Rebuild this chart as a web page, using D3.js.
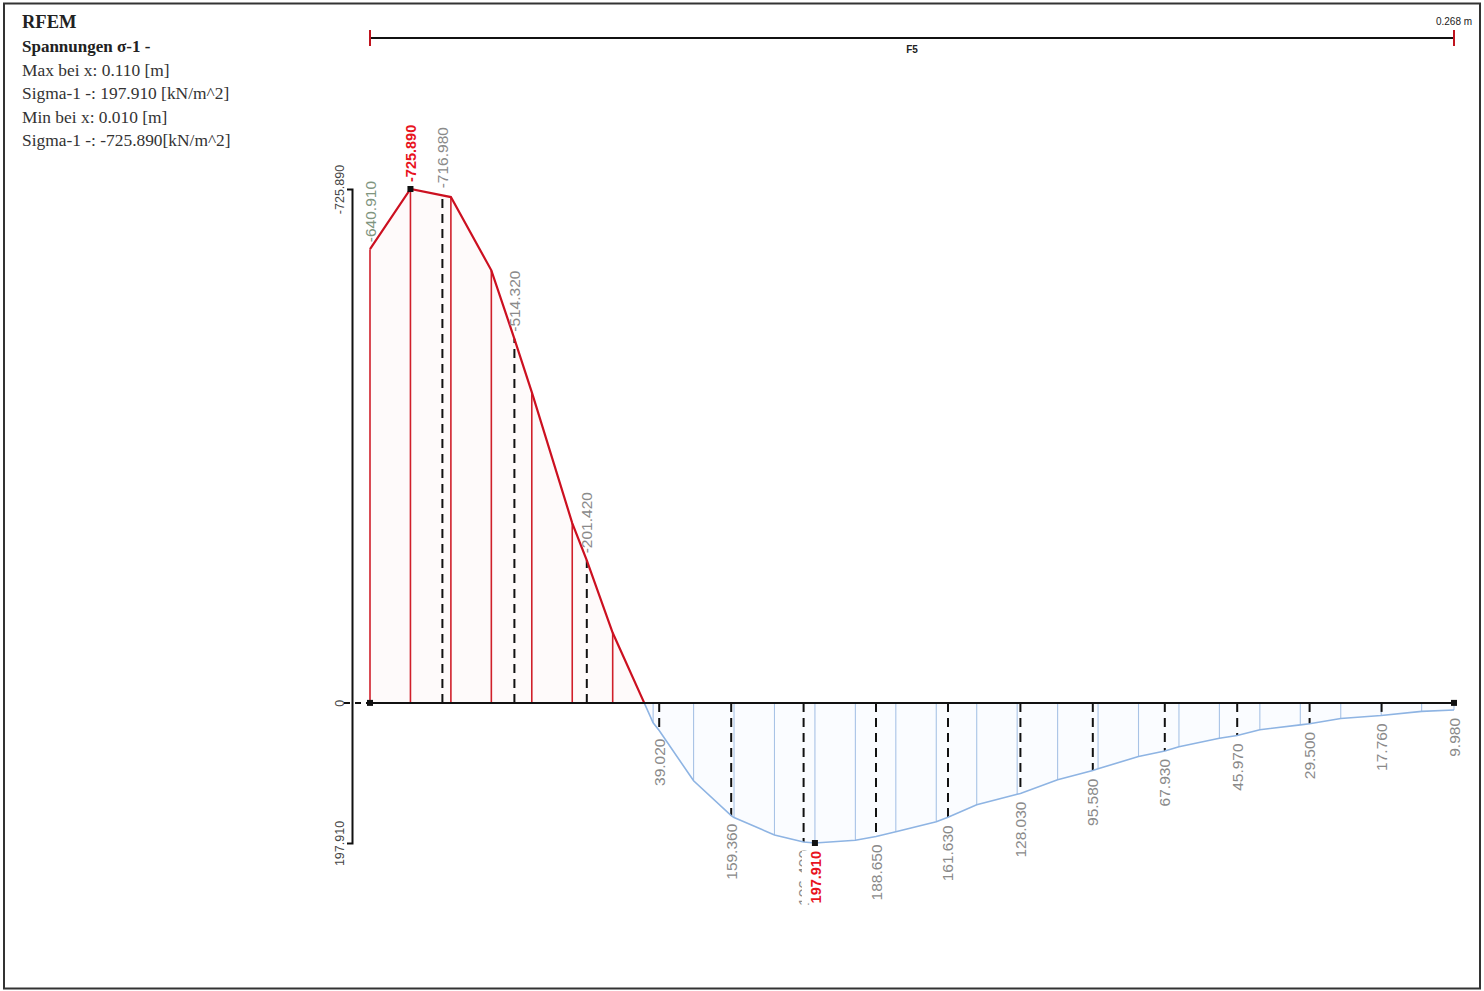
<!DOCTYPE html>
<html>
<head>
<meta charset="utf-8">
<script src="https://cdn.jsdelivr.net/npm/d3@7"></script>
<style>
  body { margin: 0; background: #fff; }
  svg { display: block; }
</style>
</head>
<body>
<div id="chart"></div>
<script>
// Stab F5, Spannungen sigma-1 entlang x [m]
const memberLength = 0.268;
const memberName = "F5";

// Teilungspunkte (Raster 0.01 m) mit Werten [kN/m^2]
const gridX = [0, 0.01, 0.02, 0.03, 0.04, 0.05, 0.06, 0.07, 0.08, 0.09, 0.10, 0.11, 0.12,
  0.13, 0.14, 0.15, 0.16, 0.17, 0.18, 0.19, 0.20, 0.21, 0.22, 0.23, 0.24, 0.25, 0.26, 0.268];
const gridV = [-640.91, -725.89, -714.5, -611, -439, -254, -99, 28, 110, 162, 186.5, 197.91, 194,
  182, 168, 144, 129, 108.7, 93, 75.8, 62, 50, 38, 31, 22, 17.76, 12, 9.98];

// beschriftete Stellen
const labelX = [0, 0.0179, 0.0357, 0.0536, 0.0715, 0.0893, 0.1072, 0.1251, 0.1429, 0.1608,
  0.1787, 0.1965, 0.2144, 0.2323, 0.2501, 0.268];
const labelV = [-640.91, -716.98, -514.32, -201.42, 39.02, 159.36, 196.4, 188.65, 161.63, 128.03,
  95.58, 67.93, 45.97, 29.5, 17.76, 9.98];

// Extremwerte
const minPoint = { x: 0.01, v: -725.89 };
const maxPoint = { x: 0.11, v: 197.91 };
const yTicks = [-725.89, 0, 197.91];

const infoLines = [
  "Max bei x: 0.110 [m]",
  "Sigma-1 -: 197.910 [kN/m^2]",
  "Min bei x: 0.010 [m]",
  "Sigma-1 -: -725.890[kN/m^2]",
];

const width = 1484, height = 991;
const fmt = (d) => d.toFixed(3);

const svg = d3.select("#chart").append("svg")
  .attr("width", width).attr("height", height);

svg.append("rect").attr("width", width).attr("height", height).attr("fill", "#fff");
svg.append("rect")
  .attr("x", 4).attr("y", 3.5).attr("width", 1476).attr("height", 985)
  .attr("fill", "none").attr("stroke", "#333").attr("stroke-width", 2);

const x = d3.scaleLinear().domain([0, memberLength]).range([370, 1454]);
const y = d3.scaleLinear().domain([minPoint.v, maxPoint.v]).range([189, 843]);

// Kopftext
const head = svg.append("g").attr("font-family", "Liberation Serif, Times New Roman, serif");
head.append("text").attr("x", 22).attr("y", 28).attr("font-size", 18.5).attr("font-weight", "bold")
  .attr("fill", "#222").text("RFEM");
head.append("text").attr("x", 22).attr("y", 52).attr("font-size", 17).attr("font-weight", "bold")
  .attr("fill", "#222").text("Spannungen σ-1 -");
infoLines.forEach((t, i) => {
  head.append("text").attr("x", 22).attr("y", 76 + i * 23.3).attr("font-size", 17.4)
    .attr("fill", "#333").text(t);
});

// Bemaßung oben
svg.append("line")
  .attr("x1", x(0)).attr("x2", x(memberLength)).attr("y1", 38).attr("y2", 38)
  .attr("stroke", "#111").attr("stroke-width", 2);
[0, memberLength].forEach((d) => {
  svg.append("line")
    .attr("x1", x(d)).attr("x2", x(d)).attr("y1", 30).attr("y2", 46)
    .attr("stroke", "#c0141e").attr("stroke-width", 2);
});
svg.append("text").attr("x", x(memberLength / 2)).attr("y", 53)
  .attr("text-anchor", "middle").attr("font-family", "Liberation Sans, Arial, sans-serif")
  .attr("font-size", 10).attr("font-weight", "bold").attr("fill", "#222").text(memberName);
svg.append("text").attr("x", x(memberLength)).attr("y", 25)
  .attr("text-anchor", "middle").attr("font-family", "Liberation Sans, Arial, sans-serif")
  .attr("font-size", 10).attr("fill", "#222").text(fmt(memberLength) + " m");

// Verlauf: Raster + Beschriftungspunkte zusammenführen
let pts = gridX.map((d, i) => ({ x: d, v: gridV[i] }));
labelX.forEach((d, i) => {
  const same = pts.find((p) => Math.abs(p.x - d) < 0.0005);
  if (same) same.v = labelV[i];
  else pts.push({ x: d, v: labelV[i] });
});
pts.sort((a, b) => a.x - b.x);

// Nulldurchgang
let neg = [], pos = [];
pts.forEach((p, i) => {
  if (i > 0) {
    const q = pts[i - 1];
    if (q.v < 0 && p.v >= 0) {
      const z = { x: q.x + (p.x - q.x) * (-q.v) / (p.v - q.v), v: 0 };
      neg.push(z);
      pos.push(z);
    }
  }
  if (p.v < 0) neg.push(p); else pos.push(p);
});

const area = d3.area().x((d) => x(d.x)).y0(y(0)).y1((d) => y(d.v));
const line = d3.line().x((d) => x(d.x)).y((d) => y(d.v));

svg.append("path").datum(neg).attr("d", area).attr("fill", "#fefafa");
svg.append("path").datum(pos).attr("d", area).attr("fill", "#fafcff");

// Teilungslinien
gridX.forEach((d, i) => {
  const v = gridV[i];
  svg.append("line")
    .attr("x1", x(d)).attr("x2", x(d)).attr("y1", y(0)).attr("y2", y(v))
    .attr("stroke", v < 0 ? "#d01f2a" : "#a8c3e6")
    .attr("stroke-width", v < 0 ? 1.6 : 1.1);
});

// gestrichelte Linien an beschrifteten Stellen
labelX.forEach((d, i) => {
  if (i === 0 || i === labelX.length - 1) return;
  svg.append("line")
    .attr("x1", x(d)).attr("x2", x(d)).attr("y1", y(0)).attr("y2", y(labelV[i]))
    .attr("stroke", "#111").attr("stroke-width", 2).attr("stroke-dasharray", "9,6");
});

svg.append("path").datum(neg).attr("d", line)
  .attr("fill", "none").attr("stroke", "#cc1020").attr("stroke-width", 2.2);
svg.append("path").datum(pos).attr("d", line)
  .attr("fill", "none").attr("stroke", "#8eb4e3").attr("stroke-width", 1.6);

// x-Achse
svg.append("line")
  .attr("x1", x(0)).attr("x2", x(memberLength)).attr("y1", y(0)).attr("y2", y(0))
  .attr("stroke", "#111").attr("stroke-width", 2);

// y-Achse links
const yAxis = svg.append("g")
  .attr("transform", "translate(352,0)")
  .call(d3.axisLeft(y).tickValues(yTicks).tickFormat((d) => (d === 0 ? "0" : fmt(d)))
    .tickSizeInner(0).tickSizeOuter(5));
yAxis.select(".domain").attr("stroke", "#111").attr("stroke-width", 2);
yAxis.selectAll("text")
  .attr("transform", "rotate(-90)")
  .attr("x", 0).attr("y", -8).attr("dy", 0)
  .style("text-anchor", "middle")
  .attr("font-family", "Liberation Sans, Arial, sans-serif")
  .attr("font-size", 12.5).attr("fill", "#444");
svg.append("line")
  .attr("x1", 344).attr("x2", x(0)).attr("y1", y(0)).attr("y2", y(0))
  .attr("stroke", "#111").attr("stroke-width", 2).attr("stroke-dasharray", "6,5");

// Wertebeschriftung
labelX.forEach((d, i) => {
  const v = labelV[i];
  const below = v >= 0;
  svg.append("text")
    .attr("transform", `translate(${x(d)},${y(v) + (below ? 8 : -7)}) rotate(-90)`)
    .attr("text-anchor", below ? "end" : "start")
    .attr("dominant-baseline", "central")
    .attr("font-family", "Liberation Sans, Arial, sans-serif")
    .attr("font-size", 15.5)
    .attr("fill", i === 0 ? "#7f957f" : "#8a8a8a")
    .text(fmt(v));
});

// Extremwerte rot
[minPoint, maxPoint].forEach((p) => {
  const below = p.v >= 0;
  const g = svg.append("g")
    .attr("transform", `translate(${x(p.x) + 1},${y(p.v) + (below ? 8 : -7)}) rotate(-90)`);
  const t = g.append("text")
    .attr("text-anchor", below ? "end" : "start")
    .attr("dominant-baseline", "central")
    .attr("font-family", "Liberation Sans, Arial, sans-serif")
    .attr("font-size", 14.5).attr("font-weight", "bold")
    .attr("fill", "#e8141e")
    .text(fmt(p.v));
  const bb = t.node().getBBox();
  g.insert("rect", "text")
    .attr("x", bb.x).attr("y", bb.y - 6).attr("width", bb.width).attr("height", bb.height + 8)
    .attr("fill", "#fff");
});

// Punkte
[{ x: 0, v: 0 }, minPoint, maxPoint, { x: memberLength, v: 0 }].forEach((p) => {
  svg.append("rect")
    .attr("x", x(p.x) - 3).attr("y", y(p.v) - 3).attr("width", 6).attr("height", 6)
    .attr("fill", "#111");
});
</script>
</body>
</html>
